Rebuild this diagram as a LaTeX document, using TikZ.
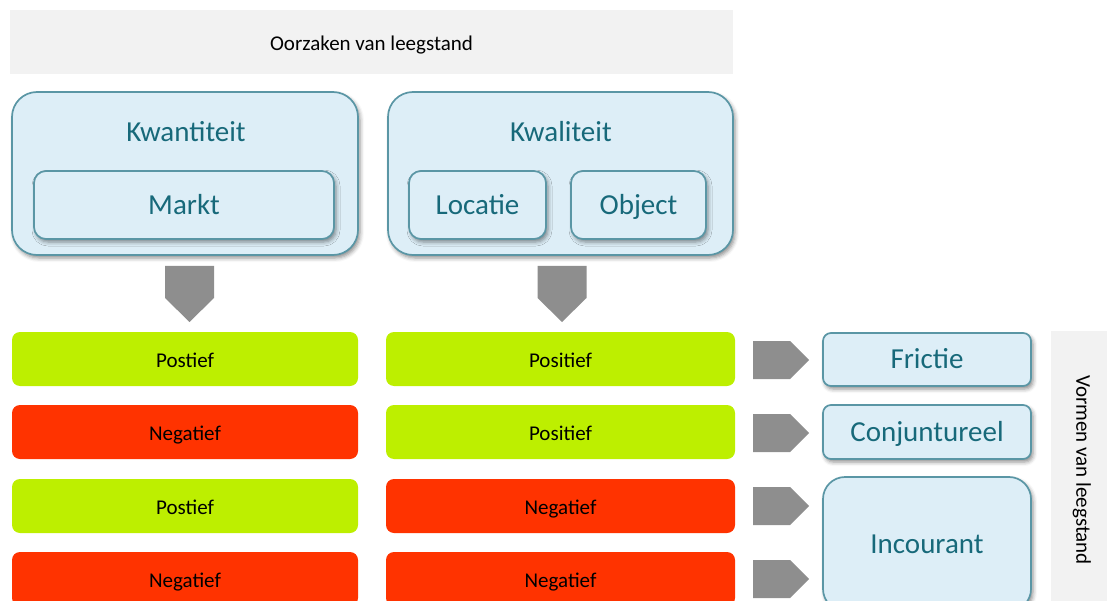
\documentclass[tikz,border=0pt]{standalone}
\usepackage{fontspec}
\setmainfont{Carlito}
\usetikzlibrary{shadows.blur}
\definecolor{paneGray}{HTML}{F2F2F2}
\definecolor{boxFill}{HTML}{DDEEF7}
\definecolor{boxLine}{HTML}{5A96A5}
\definecolor{boxText}{HTML}{17697A}
\definecolor{posGreen}{HTML}{BDEF00}
\definecolor{negRed}{HTML}{FF3300}
\definecolor{arrowGray}{HTML}{8E8E8E}
\begin{document}
\begin{tikzpicture}[x=1pt,y=-1pt,
  smalltext/.style={font=\fontsize{21}{25}\selectfont, text height=17.5pt, text depth=0pt},
  panel/.style={fill=paneGray, inner sep=0pt, outer sep=0pt, smalltext},
  causebox/.style={draw=boxLine, line width=1.7pt, fill=boxFill, inner sep=0pt,
    blur shadow={shadow xshift=2pt, shadow yshift=-3pt, shadow blur radius=4pt, shadow opacity=45}},
  bigtext/.style={text=boxText, font=\fontsize{29}{34}\selectfont, text height=18.5pt, text depth=0pt, inner sep=0pt},
  rowbar/.style={rounded corners=8pt, minimum height=54pt, inner sep=0pt, smalltext},
  posbar/.style={rowbar, fill=posGreen},
  negbar/.style={rowbar, fill=negRed},
  blockarrow/.style={fill=arrowGray}
]
\useasboundingbox (0,0) rectangle (1107,601);
\clip (0,0) rectangle (1107,601);

% title bar
\node[panel, minimum width=723pt, minimum height=64pt] (title) at (371.5,42) {Oorzaken van leegstand};

% cause groups
\node[causebox, rounded corners=25pt, minimum width=346pt, minimum height=163pt] (kwant) at (185,173.5) {};
\node[bigtext] (kwantLabel) at (186,132) {Kwantiteit};
\node[causebox, rounded corners=12pt, minimum width=300pt, minimum height=68pt, bigtext] (markt) at (184,205) {Markt};

\node[causebox, rounded corners=25pt, minimum width=345pt, minimum height=163pt] (kwal) at (560.5,173.5) {};
\node[bigtext] (kwalLabel) at (561,132) {Kwaliteit};
\node[causebox, rounded corners=12pt, minimum width=137pt, minimum height=68pt, bigtext] (locatie) at (477.5,205) {Locatie};
\node[causebox, rounded corners=12pt, minimum width=135pt, minimum height=68pt, bigtext] (object) at (638.5,205) {Object};

% downward block arrows
\foreach \x in {189.5,562}
  \fill[blockarrow] (\x-24.5,266) -- (\x+24.5,266) -- (\x+24.5,298) -- (\x,322) -- (\x-24.5,298) -- cycle;

% combination rows
\node[posbar, minimum width=346pt] (l1) at (185,359) {Postief};
\node[negbar, minimum width=346pt] (l2) at (185,432) {Negatief};
\node[posbar, minimum width=346pt] (l3) at (185,506) {Postief};
\node[negbar, minimum width=346pt] (l4) at (185,579) {Negatief};

\node[posbar, minimum width=349pt] (r1) at (560.5,359) {Positief};
\node[posbar, minimum width=349pt] (r2) at (560.5,432) {Positief};
\node[negbar, minimum width=349pt] (r3) at (560.5,506) {Negatief};
\node[negbar, minimum width=349pt] (r4) at (560.5,579) {Negatief};

% right block arrows
\foreach \y in {360,433,506,579}
  \fill[blockarrow] (753,\y-19) -- (790,\y-19) -- (809,\y) -- (790,\y+19) -- (753,\y+19) -- cycle;

% forms of vacancy
\node[causebox, rounded corners=8pt, minimum width=208pt, minimum height=53pt, bigtext] (frictie) at (927,359.5) {Frictie};
\node[causebox, rounded corners=8pt, minimum width=208pt, minimum height=54pt, bigtext] (conj) at (927,432) {Conjuntureel};
\node[causebox, rounded corners=22pt, minimum width=208pt, minimum height=134pt, bigtext] (incourant) at (927,544) {Incourant};

% side bar
\node[panel, minimum width=56pt, minimum height=280pt] (side) at (1079,471) {};
\node[smalltext, rotate=-90, inner sep=0pt] (sideLabel) at (1085,470) {Vormen van leegstand};
\end{tikzpicture}
\end{document}
